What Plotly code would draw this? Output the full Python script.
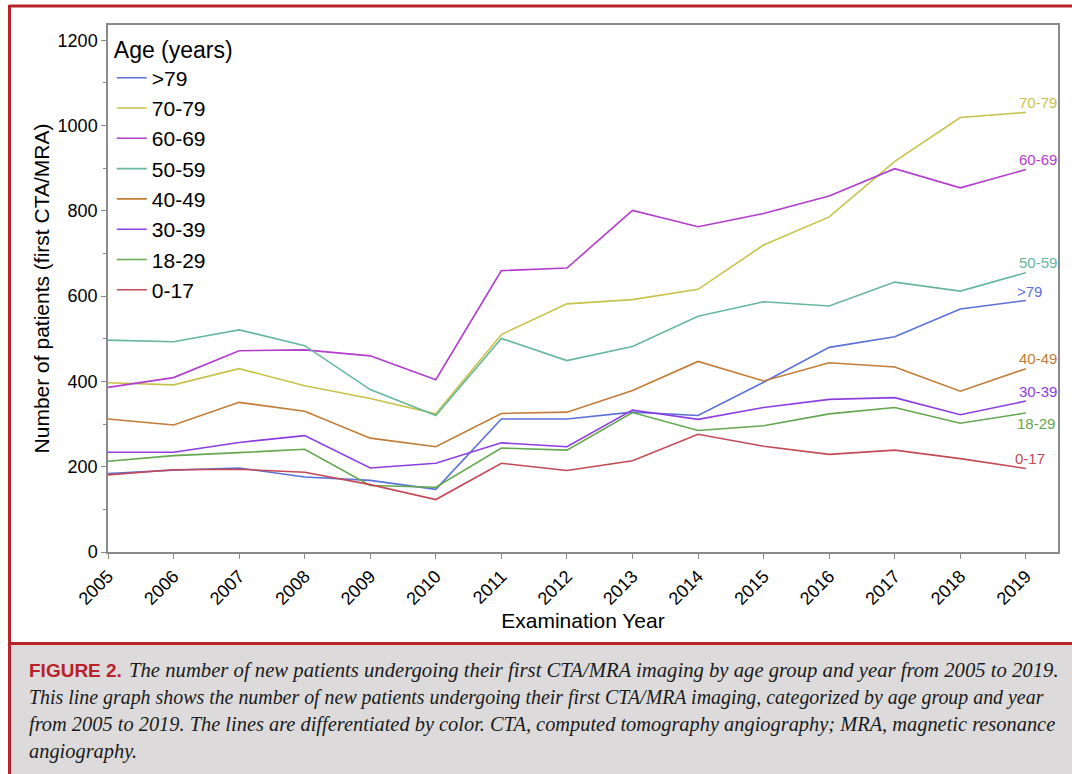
import plotly.graph_objects as go

# ---------------- data ----------------
years = list(range(2005, 2020))

age_groups = [">79", "70-79", "60-69", "50-59", "40-49", "30-39", "18-29", "0-17"]

v_gt79 = [184, 192, 197, 176, 168, 147, 312, 312, 328, 320, 398, 480, 505, 570, 590]
v_70_79 = [397, 392, 430, 390, 360, 324, 510, 582, 592, 616, 720, 786, 916, 1019, 1031]
v_60_69 = [386, 409, 472, 474, 460, 404, 660, 666, 801, 763, 794, 835, 899, 854, 897]
v_50_59 = [497, 493, 521, 484, 381, 320, 501, 449, 482, 553, 587, 577, 633, 612, 655]
v_40_49 = [312, 298, 351, 330, 267, 247, 325, 328, 379, 447, 401, 444, 434, 377, 430]
v_30_39 = [234, 234, 257, 273, 197, 208, 256, 247, 333, 311, 339, 358, 362, 322, 354]
v_18_29 = [213, 226, 233, 241, 156, 152, 244, 239, 327, 285, 296, 324, 339, 302, 326]
v_0_17 = [181, 193, 194, 187, 158, 123, 208, 191, 214, 276, 248, 229, 239, 219, 196]

series_values = [v_gt79, v_70_79, v_60_69, v_50_59, v_40_49, v_30_39, v_18_29, v_0_17]

colors = ["#5a72d8", "#c9c24a", "#b23ccc", "#66b89a",
          "#c27c36", "#8e3de0", "#63a84e", "#c34a55"]

# end-label offsets (pixels) relative to the last point
label_shift = {">79": (4, 9), "70-79": (12, 10), "60-69": (12, 10), "50-59": (12, 10),
               "40-49": (12, 10), "30-39": (12, 10), "18-29": (10, -10), "0-17": (4, 10)}

y_ticks = [0, 200, 400, 600, 800, 1000, 1200]

caption_lines = [
    "The number of new patients undergoing their first CTA/MRA imaging by age group and year from 2005 to 2019.",
    "This line graph shows the number of new patients undergoing their first CTA/MRA imaging, categorized by age group and year",
    "from 2005 to 2019. The lines are differentiated by color. CTA, computed tomography angiography; MRA, magnetic resonance",
    "angiography.",
]

# ---------------- geometry helpers ----------------
W, H = 1072, 774
L, R, T, B = 108, 1058, 25, 552
PW, PH = R - L, B - T


def px(x):
    return (x - L) / PW


def py(y):
    return (B - y) / PH


fig = go.Figure()

for name, vals, col in zip(age_groups, series_values, colors):
    fig.add_trace(go.Scatter(x=years, y=vals, mode="lines", name=name,
                             line=dict(color=col, width=1.6)))
    dx, dy = label_shift[name]
    fig.add_annotation(x=years[-1], y=vals[-1], text=name, showarrow=False,
                       xanchor="center", yanchor="middle", xshift=dx, yshift=dy,
                       font=dict(family="Liberation Sans", size=15, color=col))

AX = "#8a8a8a"
fig.update_xaxes(range=[2005, 2019.49], tickmode="array", tickvals=years,
                 ticktext=[str(y) for y in years], tickangle=-45,
                 ticks="outside", ticklen=5, tickcolor=AX, tickwidth=1,
                 showline=True, linecolor=AX, linewidth=1.5, mirror=True,
                 showgrid=False, zeroline=False,
                 tickfont=dict(family="Liberation Sans", size=18, color="black"),
                 title=dict(text="Examination Year", standoff=0,
                            font=dict(family="Liberation Sans", size=21, color="black")))
fig.update_yaxes(range=[0, 1236], tickmode="array", tickvals=y_ticks,
                 ticks="outside", ticklen=5, tickcolor=AX, tickwidth=1,
                 minor=dict(tickmode="array", tickvals=[100, 300, 500, 700, 900, 1100],
                            ticks="outside", ticklen=3, tickcolor=AX),
                 showline=True, linecolor=AX, linewidth=1.5, mirror=True,
                 showgrid=False, zeroline=False,
                 tickfont=dict(family="Liberation Sans", size=18, color="black"),
                 title=dict(text="Number of patients (first CTA/MRA)", standoff=2,
                            font=dict(family="Liberation Sans", size=21, color="black")))

# frame and caption box
RED = "#b8232b"
fig.add_shape(type="rect", xref="paper", yref="paper", layer="below",
              x0=px(10), x1=px(1080), y0=py(644), y1=py(780),
              fillcolor="#dcdadb", line=dict(width=0))
fig.add_shape(type="line", xref="paper", yref="paper",
              x0=px(9.5), x1=px(1080), y0=py(6), y1=py(6), line=dict(color=RED, width=3))
fig.add_shape(type="line", xref="paper", yref="paper",
              x0=px(9.5), x1=px(9.5), y0=py(5), y1=py(780), line=dict(color=RED, width=3))
fig.add_shape(type="line", xref="paper", yref="paper",
              x0=px(9.5), x1=px(1080), y0=py(643.5), y1=py(643.5), line=dict(color=RED, width=3))

fig.add_annotation(xref="paper", yref="paper", x=px(27), y=py(670), xanchor="left",
                   yanchor="middle", showarrow=False, text="<b>FIGURE 2.</b>",
                   font=dict(family="Liberation Sans", size=19, color=RED))
cap_x = [127, 27, 27, 27]
cap_y = [670, 697, 724, 751]
cap_size = [20.7, 19.9, 20.4, 20.4]
for i, line in enumerate(caption_lines):
    fig.add_annotation(xref="paper", yref="paper", x=px(cap_x[i]), y=py(cap_y[i]),
                       xanchor="left", yanchor="middle", showarrow=False,
                       text="<i>" + line + "</i>",
                       font=dict(family="Liberation Serif", size=cap_size[i], color="#1a1a1a"))

fig.update_layout(
    width=W, height=H,
    margin=dict(l=L, r=W - R, t=T, b=H - B, autoexpand=False),
    paper_bgcolor="white", plot_bgcolor="white",
    font=dict(family="Liberation Sans", color="black"),
    showlegend=True,
    legend=dict(x=0.004, y=0.995, xanchor="left", yanchor="top",
                bgcolor="rgba(0,0,0,0)", borderwidth=0, itemwidth=30,
                title=dict(text="Age (years)", font=dict(family="Liberation Sans", size=23)),
                font=dict(family="Liberation Sans", size=21, color="black")),
)

fig.write_html("out.html", config={"displayModeBar": False},
               post_script="document.body.style.margin='0px';document.body.style.padding='0px';")
